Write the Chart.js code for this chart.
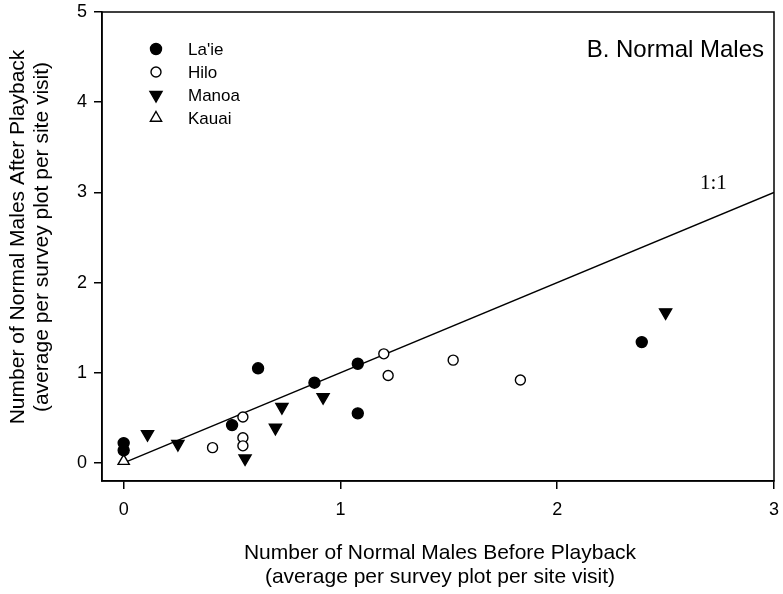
<!DOCTYPE html>
<html lang="en">
<head>
  <meta charset="UTF-8" />
  <title>B. Normal Males</title>
  <script src="https://cdn.jsdelivr.net/npm/chart.js"></script>
  <style>
    body { margin: 0; padding: 0; background: #fff; }
    #wrap { width: 783px; height: 594px; }
  </style>
</head>
<body>
  <div id="wrap"><canvas id="chart" width="783" height="594"></canvas></div>

  <script>
    // values (before, after)
    const laieX  = [0, 0, 0.50, 0.62, 0.88, 1.08, 1.08, 2.39];
    const laieY  = [0.22, 0.14, 0.42, 1.05, 0.89, 1.10, 0.55, 1.34];
    const hiloX  = [0.41, 0.55, 0.55, 0.55, 1.20, 1.22, 1.52, 1.83];
    const hiloY  = [0.17, 0.28, 0.19, 0.51, 1.21, 0.97, 1.14, 0.92];
    const manoaX = [0.11, 0.25, 0.56, 0.70, 0.73, 0.92, 2.50];
    const manoaY = [0.32, 0.21, 0.05, 0.39, 0.62, 0.73, 1.67];
    const kauaiX = [0];
    const kauaiY = [0.02];
    const oneToOne = [0, 3];
    const xTicks = [0, 1, 2, 3];
    const yTicks = [0, 1, 2, 3, 4, 5];
    const siteNames = ["La'ie", 'Hilo', 'Manoa', 'Kauai'];

    const pts = (xs, ys) => xs.map((x, i) => ({ x: x, y: ys[i] }));

    const markerStyles = [
      { pointStyle: 'circle', radius: 5.5, rotation: 0, fill: '#000' },
      { pointStyle: 'circle', radius: 5, rotation: 0, fill: '#fff' },
      { pointStyle: 'triangle', radius: 7, rotation: 180, fill: '#000' },
      { pointStyle: 'triangle', radius: 6.5, rotation: 0, fill: '#fff' }
    ];

    function drawMarker(ctx, m, x, y) {
      ctx.save();
      ctx.fillStyle = m.fill;
      ctx.strokeStyle = '#000';
      ctx.lineWidth = 1.4;
      ctx.beginPath();
      if (m.pointStyle === 'circle') {
        ctx.arc(x, y, m.radius, 0, Math.PI * 2);
      } else {
        let rad = m.rotation * Math.PI / 180;
        for (let k = 0; k < 3; k++) {
          const px = x + Math.sin(rad) * m.radius;
          const py = y - Math.cos(rad) * m.radius;
          if (k === 0) ctx.moveTo(px, py); else ctx.lineTo(px, py);
          rad += Math.PI * 2 / 3;
        }
        ctx.closePath();
      }
      ctx.fill();
      ctx.stroke();
      ctx.restore();
    }

    // frame, labels, legend
    const extras = {
      id: 'extras',
      afterDraw(chart) {
        const ctx = chart.ctx;
        const a = chart.chartArea;
        ctx.save();
        ctx.strokeStyle = '#000';
        ctx.lineWidth = 1.5;
        ctx.strokeRect(a.left, a.top, a.right - a.left, a.bottom - a.top);

        ctx.fillStyle = '#000';
        ctx.textAlign = 'right';
        ctx.textBaseline = 'middle';
        ctx.font = '24px "Liberation Sans", Arial, sans-serif';
        ctx.fillText('B. Normal Males', 764, 50);

        ctx.textAlign = 'left';
        ctx.font = '21px "Liberation Serif", "Times New Roman", serif';
        ctx.fillText('1:1', 700, 183);

        ctx.font = '17px "Liberation Sans", Arial, sans-serif';
        siteNames.forEach((name, i) => {
          const y = 49 + i * 23;
          drawMarker(ctx, markerStyles[i], 156, y);
          ctx.fillStyle = '#000';
          ctx.fillText(name, 188, y + 1);
        });

        ctx.textAlign = 'center';
        ctx.font = '21px "Liberation Sans", Arial, sans-serif';
        ctx.fillText('Number of Normal Males Before Playback', 440, 553);
        ctx.fillText('(average per survey plot per site visit)', 440, 577);

        ctx.translate(30, 237);
        ctx.rotate(-Math.PI / 2);
        ctx.fillText('Number of Normal Males After Playback', 0, -12);
        ctx.fillText('(average per survey plot per site visit)', 0, 12);
        ctx.restore();
      }
    };

    const scatterSet = (label, data, m) => ({
      type: 'scatter',
      label: label,
      data: data,
      pointStyle: m.pointStyle,
      pointRadius: m.radius,
      pointRotation: m.rotation,
      pointBackgroundColor: m.fill,
      pointBorderColor: '#000',
      pointBorderWidth: 1.4,
      order: 1
    });

    new Chart(document.getElementById('chart'), {
      type: 'scatter',
      data: {
        datasets: [
          scatterSet(siteNames[0], pts(laieX, laieY), markerStyles[0]),
          scatterSet(siteNames[1], pts(hiloX, hiloY), markerStyles[1]),
          scatterSet(siteNames[2], pts(manoaX, manoaY), markerStyles[2]),
          scatterSet(siteNames[3], pts(kauaiX, kauaiY), markerStyles[3]),
          {
            type: 'line',
            label: '1:1',
            data: pts(oneToOne, oneToOne),
            borderColor: '#000',
            borderWidth: 1.4,
            pointRadius: 0,
            fill: false,
            order: 10
          }
        ]
      },
      options: {
        responsive: false,
        animation: false,
        events: [],
        layout: { padding: { top: 12, right: 9, left: 0, bottom: 0 } },
        plugins: {
          legend: { display: false },
          tooltip: { enabled: false }
        },
        scales: {
          x: {
            type: 'linear',
            min: -0.1,
            max: 3,
            afterBuildTicks: s => { s.ticks = xTicks.map(v => ({ value: v })); },
            afterFit: s => { s.height = 113; s.paddingLeft = 0; s.paddingRight = 0; },
            grid: { drawOnChartArea: false, tickLength: 8, color: '#000', lineWidth: 1.5 },
            border: { display: true, color: '#000', width: 1.5 },
            ticks: {
              color: '#000',
              padding: 10,
              maxRotation: 0,
              font: { family: '"Liberation Sans", Arial, sans-serif', size: 18 }
            }
          },
          y: {
            type: 'linear',
            min: -0.2,
            max: 5,
            afterBuildTicks: s => { s.ticks = yTicks.map(v => ({ value: v })); },
            afterFit: s => { s.width = 102; s.paddingTop = 0; s.paddingBottom = 0; },
            grid: { drawOnChartArea: false, tickLength: 8, color: '#000', lineWidth: 1.5 },
            border: { display: true, color: '#000', width: 1.5 },
            ticks: {
              color: '#000',
              padding: 7,
              font: { family: '"Liberation Sans", Arial, sans-serif', size: 18 }
            }
          }
        }
      },
      plugins: [extras]
    });
  </script>
</body>
</html>
